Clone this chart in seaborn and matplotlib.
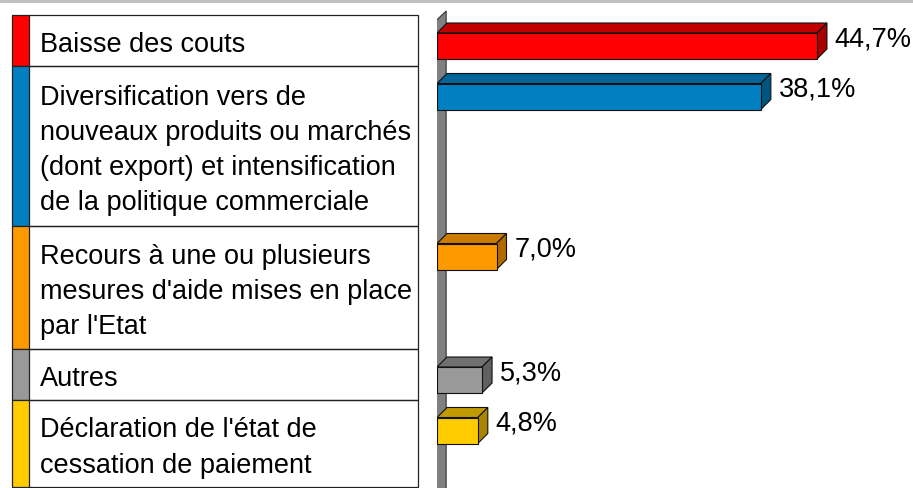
import matplotlib
matplotlib.use("Agg")
import matplotlib.pyplot as plt
from matplotlib.patches import Polygon, Rectangle
from matplotlib.lines import Line2D
import seaborn as sns
import pandas as pd

# Données
categories = [
    "Baisse des couts",
    "Diversification vers de\nnouveaux produits ou marchés\n(dont export) et intensification\nde la politique commerciale",
    "Recours à une ou plusieurs\nmesures d'aide mises en place\npar l'Etat",
    "Autres",
    "Déclaration de l'état de\ncessation de paiement",
]
valeurs = [44.7, 38.1, 7.0, 5.3, 4.8]
etiquettes = ["44,7%", "38,1%", "7,0%", "5,3%", "4,8%"]
couleurs = ["#FF0000", "#0080C0", "#FF9900", "#999999", "#FFCC00"]
couleurs_dessus = ["#C00000", "#006699", "#CC7A00", "#707070", "#C09A00"]
couleurs_cote = ["#A80000", "#005580", "#B06A00", "#606060", "#A88700"]

sns.set_theme(style="white")
plt.rcParams["font.family"] = ["Liberation Sans", "DejaVu Sans"]

W, H = 913, 488
fig = plt.figure(figsize=(W / 100, H / 100), dpi=100)

# Axe "pixels" pour le tableau des libellés
ax_t = fig.add_axes([0, 0, 1, 1])
ax_t.set_xlim(0, W)
ax_t.set_ylim(H, 0)
ax_t.axis("off")

# ligne grise en haut
ax_t.add_line(Line2D([0, W], [1, 1], color="#C0C0C0", lw=2.2))

# hauteur des lignes du tableau selon le nombre de lignes de texte
nb_lignes = [c.count("\n") + 1 for c in categories]
hauteurs = [14 + 36.5 * n for n in nb_lignes]
hauts = [15]
for h in hauteurs[:-1]:
    hauts.append(hauts[-1] + h)

x0, x1, xs = 12, 418, 29
for haut, h, lab, col in zip(hauts, hauteurs, categories, couleurs):
    ax_t.add_patch(Rectangle((x0, haut), xs - x0, h, facecolor=col, edgecolor="none"))
    ax_t.add_patch(Rectangle((x0, haut), x1 - x0, h, facecolor="none", edgecolor="#222222", lw=0.9))
    ax_t.plot([xs, xs], [haut, haut + h], color="#222222", lw=0.9)
    ax_t.text(40, haut + h / 2 + 5, lab, fontsize=19.5, va="center", ha="left",
              color="black", linespacing=1.46)

# Axe des barres : 8.5 px par point de %
x_orig = 437
px_par_pct = 8.5
ax_b = fig.add_axes([x_orig / W, 0, (W - x_orig) / W, 1])
ax_b.patch.set_alpha(0)

positions = [h + 31 for h in hauts]
df = pd.DataFrame({"cat": categories, "val": valeurs, "pos": positions})
ecart_min = min(b - a for a, b in zip(positions[:-1], positions[1:]))
sns.barplot(data=df, x="val", y="pos", hue="cat", palette=couleurs, orient="h",
            native_scale=True, legend=False, width=26 / ecart_min,
            edgecolor="#111111", linewidth=0.8, saturation=1, ax=ax_b)
ax_b.set_xlim(0, (W - x_orig) / px_par_pct)
ax_b.set_ylim(H, 0)
ax_b.axis("off")

dx = 10 / px_par_pct
dy = 10

# mur gris (axe vertical en 3D)
mur = Polygon([(-0.15, 21), (dx - 0.1, 11), (dx - 0.1, H + 5), (-0.15, H + 15)],
              closed=True, facecolor="#808080", edgecolor="#333333", lw=0.8, zorder=0.5)
ax_b.add_patch(mur)

barres = [p for p in ax_b.patches if isinstance(p, Rectangle)]
barres.sort(key=lambda p: p.get_y())
for p, ct, cc, lab in zip(barres, couleurs_dessus, couleurs_cote, etiquettes):
    bx, by = p.get_x(), p.get_y()
    bw, bh = p.get_width(), p.get_height()
    yt, yb = min(by, by + bh), max(by, by + bh)
    xe = bx + bw
    p.set_zorder(3)
    ax_b.add_patch(Polygon([(bx, yt), (bx + dx, yt - dy), (xe + dx, yt - dy), (xe, yt)],
                           closed=True, facecolor=ct, edgecolor="#111111", lw=0.8, zorder=2))
    ax_b.add_patch(Polygon([(xe, yt), (xe + dx, yt - dy), (xe + dx, yb - dy), (xe, yb)],
                           closed=True, facecolor=cc, edgecolor="#111111", lw=0.8, zorder=2))
    ax_b.text(xe + dx + 0.9, (yt + yb) / 2 - 7, lab, fontsize=19.5, va="center",
              ha="left", color="black")

fig.savefig("out.png", dpi=100)
